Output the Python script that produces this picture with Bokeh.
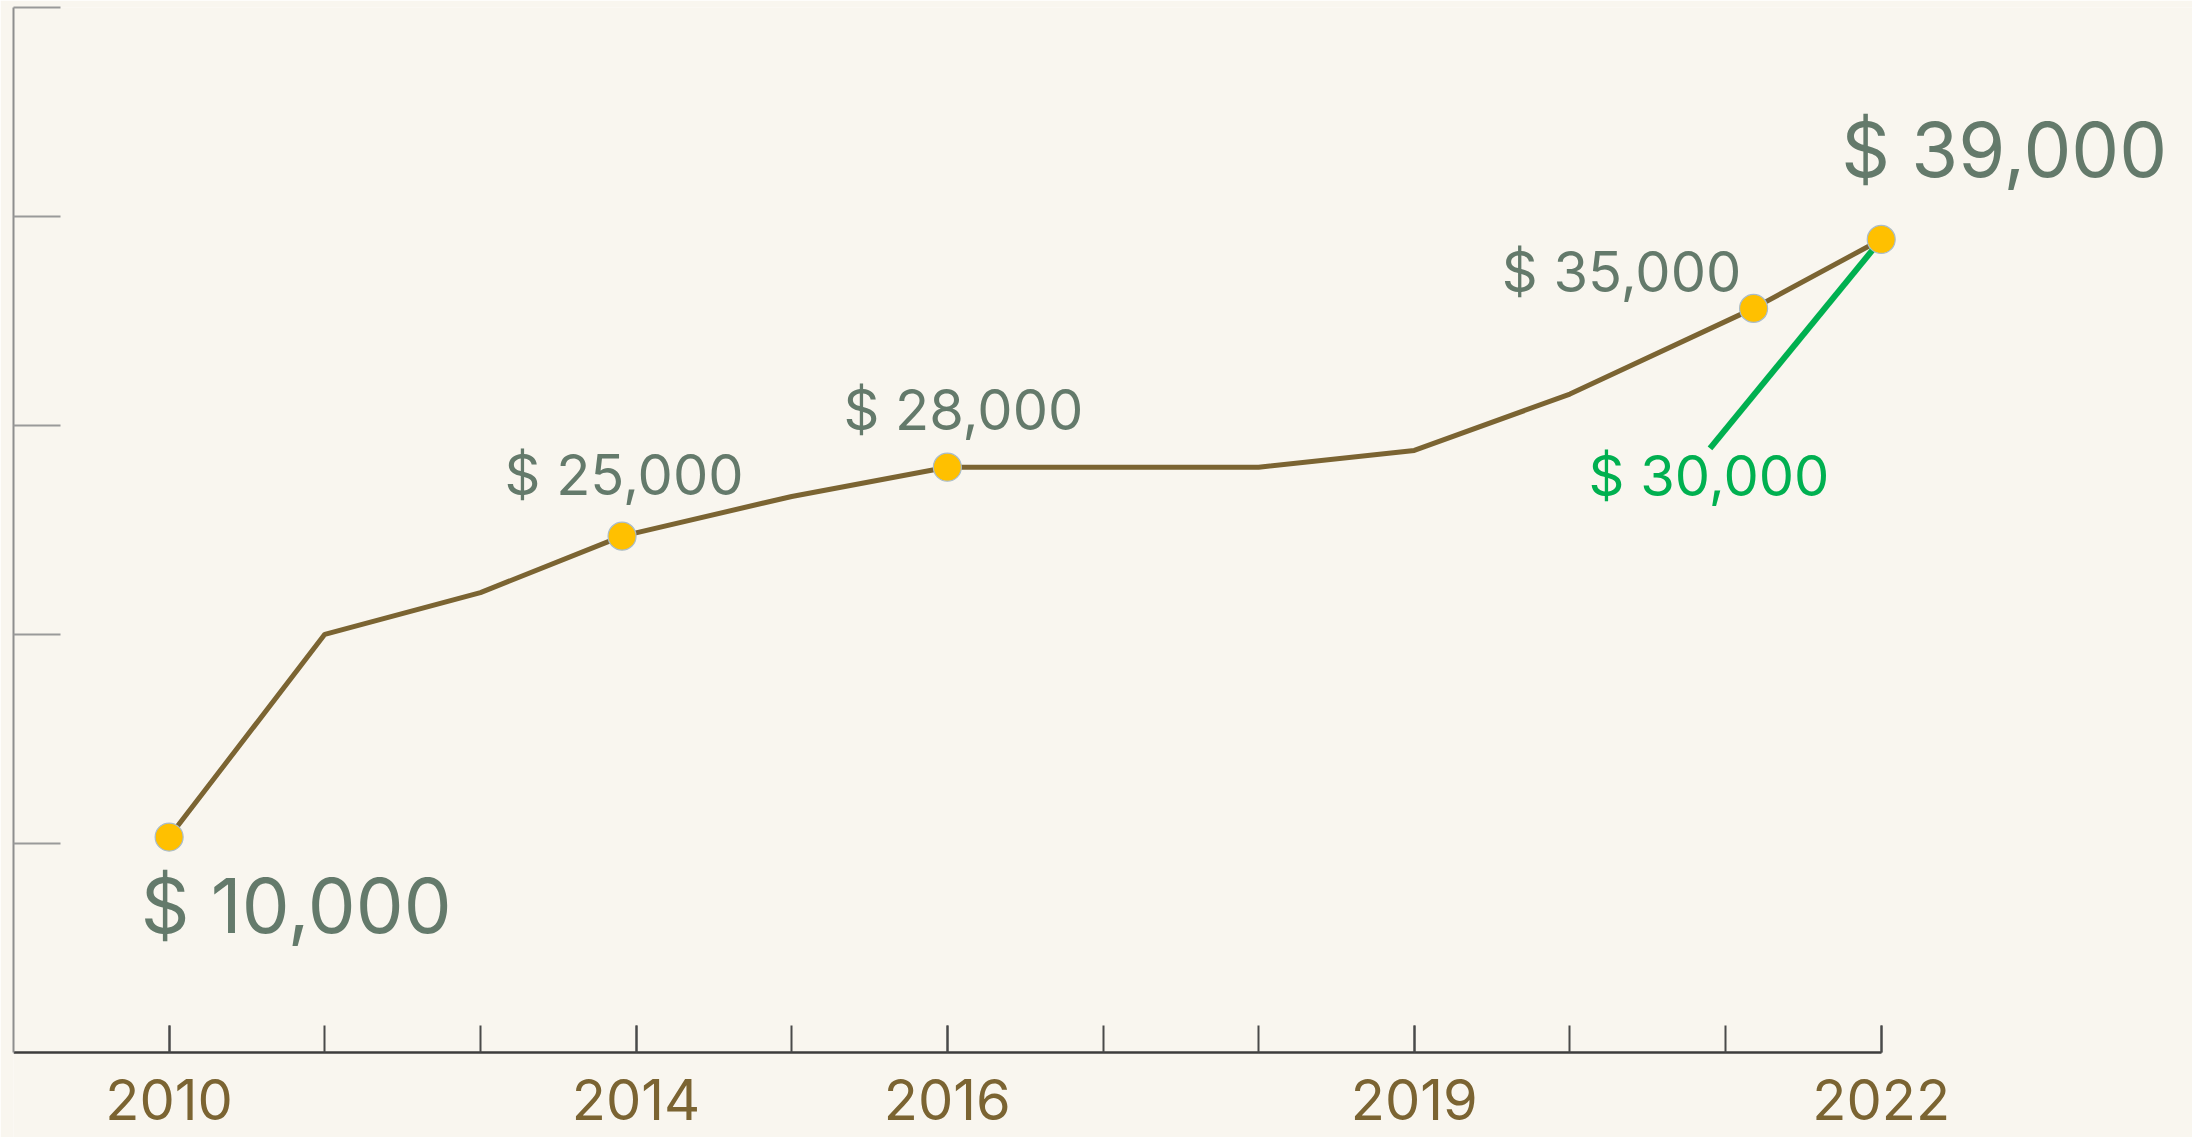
from bokeh.plotting import figure
from bokeh.models import Range1d, FixedTicker, ColumnDataSource
from bokeh.core.properties import value
from bokeh.embed import file_html
from bokeh.resources import INLINE

# ---- data ----
x_pos = [0, 1, 2, 2.91, 4, 5, 6, 7, 8, 9, 10.18, 11]
income = [10300, 20000, 22000, 24700, 26600, 28000, 28000, 28000, 28800, 31500, 35600, 38900]
tick_pos = [0, 1, 2, 3, 4, 5, 6, 7, 8, 9, 10, 11]
year_pos = [0, 3, 5, 8, 11]
year_labels = ["2010", "2014", "2016", "2019", "2022"]
marked_idx = [0, 3, 5, 10, 11]
marked_labels = ["$ 10,000", "$ 25,000", "$ 28,000", "$ 35,000", "$ 39,000"]
y_ticks = [10000, 20000, 30000, 40000, 50000]
callout_text = "$ 30,000"
callout_x = 9.9
callout_y = 28900

# ---- styles ----
BG = "#F9F6EF"
LINE = "#7B6432"
DOT = "#FFC000"
TXT = "#647A6B"
GREEN = "#00B050"
FONT = "Inter"
label_dx = [127, 2, 16, -132, 123]
label_dy = [68, -61, -57, -36, -90]
label_size = ["76px", "56px", "56px", "56px", "76px"]

# frame spans to the bottom edge; the x axis is pinned at income 0
p = figure(width=2192, height=1137, output_backend="svg", toolbar_location=None,
           x_range=Range1d(-1, 13), y_range=Range1d(-4080, 50000),
           min_border_left=13, min_border_right=0, min_border_top=7, min_border_bottom=0)
p.background_fill_color = BG
p.border_fill_color = BG
p.outline_line_color = None
p.xgrid.visible = False
p.ygrid.visible = False

# x axis
xa = p.xaxis[0]
xa.fixed_location = 0
xa.ticker = FixedTicker(ticks=year_pos, minor_ticks=tick_pos)
xa.major_label_overrides = {pos: lab for pos, lab in zip(year_pos, year_labels)}
xa.bounds = (-1, 11)
xa.major_tick_in = 27
xa.major_tick_out = 0
xa.minor_tick_in = 27
xa.minor_tick_out = 0
xa.axis_line_color = "#3C3C3C"
xa.axis_line_width = 2.5
xa.major_tick_line_color = "#4A4A4A"
xa.major_tick_line_width = 2
xa.minor_tick_line_color = "#4A4A4A"
xa.minor_tick_line_width = 2
xa.major_label_text_font = FONT
xa.major_label_text_font_size = "56px"
xa.major_label_text_color = LINE
xa.major_label_standoff = 27

# y axis (ticks only)
ya = p.yaxis[0]
ya.ticker = FixedTicker(ticks=[], minor_ticks=y_ticks)
ya.bounds = (0, 50000)
ya.major_tick_in = 0
ya.major_tick_out = 0
ya.minor_tick_in = 47
ya.minor_tick_out = 0
ya.axis_line_color = "#8E8E8E"
ya.axis_line_width = 2
ya.minor_tick_line_color = "#9A9A9A"
ya.minor_tick_line_width = 2
ya.major_label_standoff = 0

# main line
p.line(x_pos, income, line_color=LINE, line_width=5)

# green callout
p.segment(x0=[callout_x], y0=[callout_y], x1=[x_pos[11]], y1=[income[11]],
          line_color=GREEN, line_width=6)

# markers
mx = [x_pos[i] for i in marked_idx]
my = [income[i] for i in marked_idx]
p.scatter(mx, my, size=28, fill_color=DOT, line_color="#A9BCCB", line_width=1.2)

src = ColumnDataSource(dict(x=mx, y=my, t=marked_labels, dx=label_dx, dy=label_dy, fs=label_size))
p.text(x="x", y="y", text="t", x_offset="dx", y_offset="dy", text_font_size="fs",
       source=src, text_font=value(FONT), text_color=TXT,
       text_align="center", text_baseline="alphabetic")

p.text(x=[callout_x], y=[callout_y], text=[callout_text], x_offset=-1, y_offset=28,
       text_font=value(FONT), text_font_size="56px", text_color=GREEN,
       text_align="center", text_baseline="alphabetic")

open("out.html", "w").write(file_html(p, INLINE))
